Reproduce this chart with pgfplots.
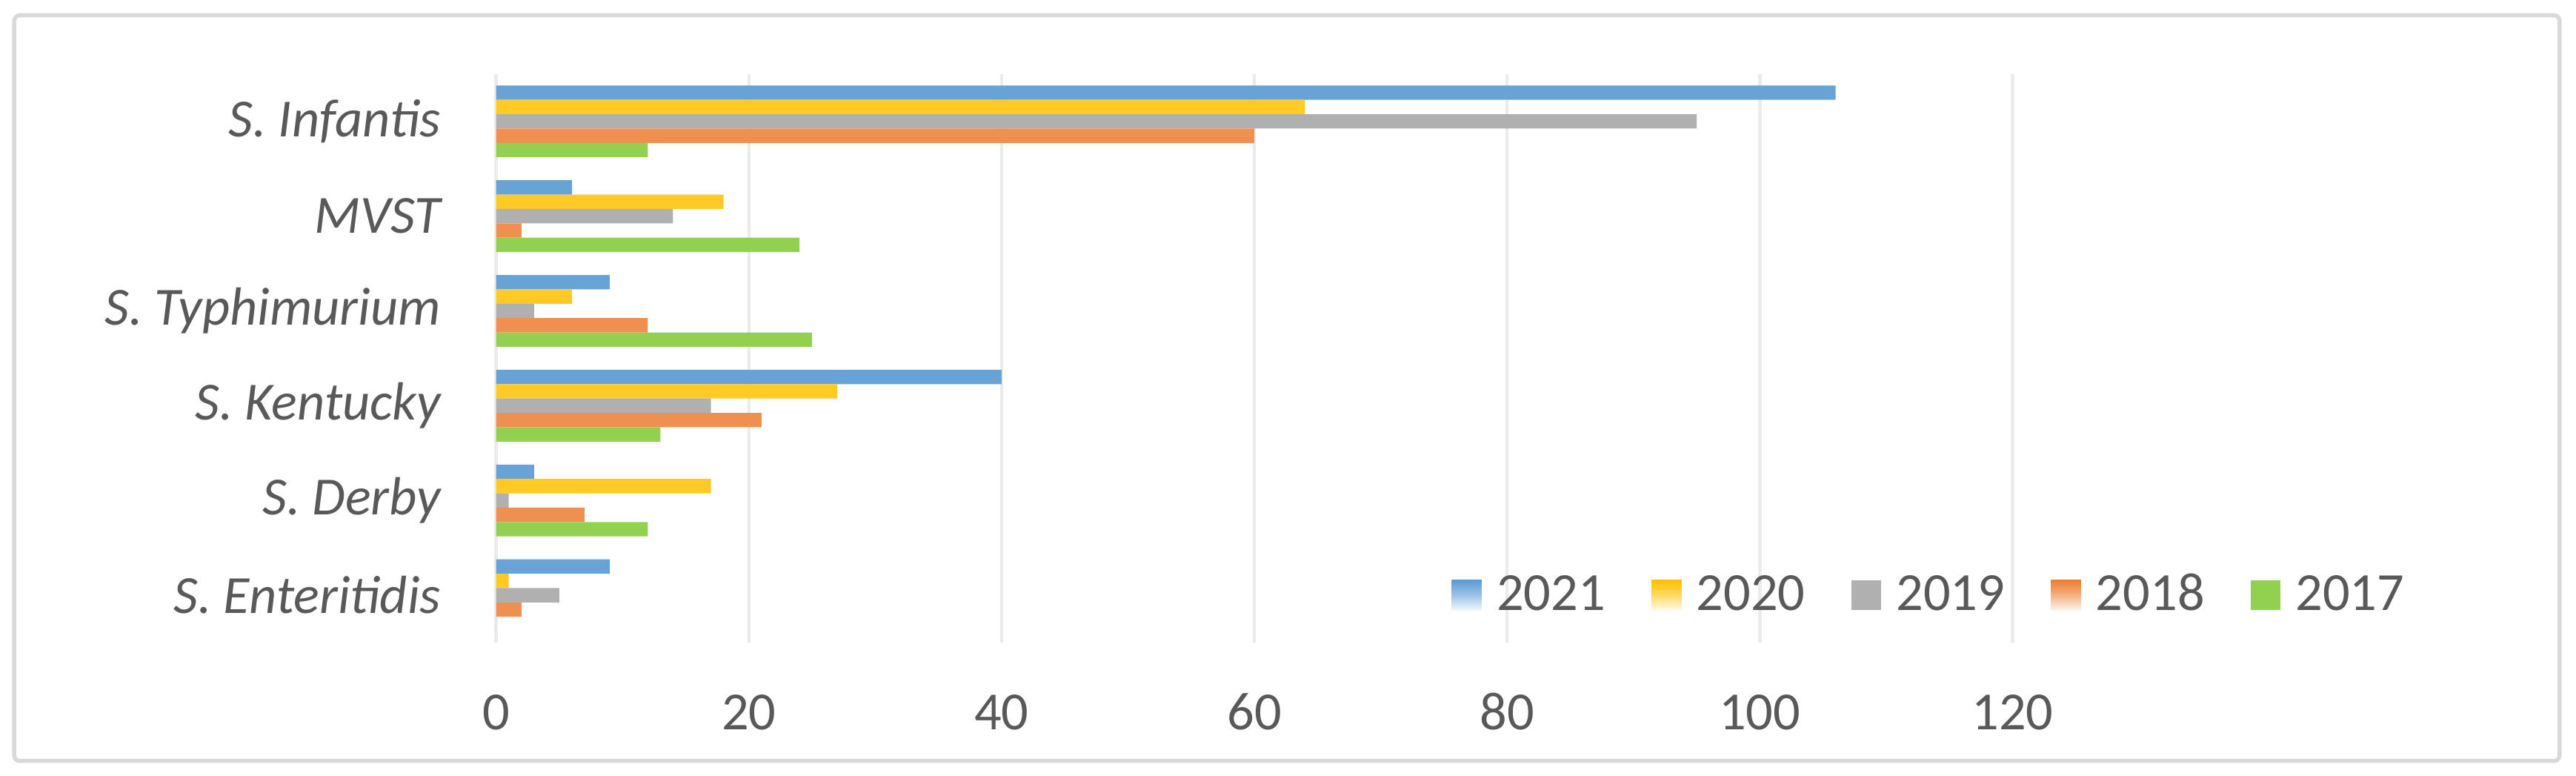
\documentclass[border=0pt]{standalone}
\usepackage{fontspec}
\setmainfont{Carlito}
\usepackage{pgfplots}
\usepackage{pgfplotstable}
\pgfplotsset{compat=1.18}

\definecolor{c21}{HTML}{5B9BD5}
\definecolor{c20}{HTML}{FFC000}
\definecolor{c19}{HTML}{B0B0B0}
\definecolor{c18}{HTML}{ED7D31}
\definecolor{c17}{HTML}{92D050}
\definecolor{txt}{HTML}{595959}
\definecolor{frame}{HTML}{D9D9D9}
\definecolor{gridc}{HTML}{EBEBEB}

\newcommand{\lbl}{\fontsize{9.8}{11.8}\selectfont}

% legend swatches: square, fading to white at the bottom
\pgfplotsset{
  fade swatch/.style={legend image code/.code={
    \path[draw=none, top color=#1, bottom color=#1!8!white, middle color=#1!60!white]
      (0pt,0pt) rectangle (5.5pt,5.5pt);}},
  flat swatch/.style={legend image code/.code={
    \path[draw=none, fill=#1] (0pt,0pt) rectangle (5.5pt,5.5pt);}},
}

% serotype counts per year, rows bottom to top
\pgfplotstableread{
cat a2021 a2020 a2019 a2018 a2017
0   9     1     5     2     0
1   3     17    1     7     12
2   40    27    17    21    13
3   9     6     3     12    25
4   6     18    14    2     24
5   106   64    95    60    12
}\counts

\begin{document}
\begin{tikzpicture}
\begin{axis}[
  at={(0,0)}, anchor=south west, scale only axis,
  width=276.9pt, height=103.8pt,
  xbar, bar width=0.1515,
  xmin=0, xmax=120, ymin=-0.5, ymax=5.5,
  xtick={0,20,...,120}, ytick={0,...,5},
  yticklabels={S. Enteritidis, S. Derby, S. Kentucky, S. Typhimurium, MVST, S. Infantis},
  xmajorgrids, grid style={gridc, line width=0.6pt},
  axis line style={draw=none}, major tick length=0pt,
  tick label style={font=\lbl, text=txt, inner sep=0pt},
  xticklabel style={anchor=base, yshift=-15.9pt},
  yticklabel style={anchor=east, xshift=-9.9pt, font=\lbl\itshape},
  /pgf/number format/assume math mode=true,
  legend columns=5,
  legend style={at={(0.6295,0.0405)}, anchor=south west, draw=none, fill=none,
    inner sep=0pt, font=\lbl, text=txt, nodes={inner sep=0pt, anchor=base},
    /tikz/every odd column/.append style={column sep=2.7pt},
    /tikz/every even column/.append style={column sep=8.4pt}},
]
\addplot[bar shift=0.303, draw=none, fill=c21!92!white, fade swatch=c21]
  table[x=a2021, y=cat] {\counts};
\addplot[bar shift=0.1515, draw=none, fill=c20!85!white, fade swatch=c20]
  table[x=a2020, y=cat] {\counts};
\addplot[bar shift=0, draw=none, fill=c19, flat swatch=c19]
  table[x=a2019, y=cat] {\counts};
\addplot[bar shift=-0.1515, draw=none, fill=c18!85!white, fade swatch=c18]
  table[x=a2018, y=cat] {\counts};
\addplot[bar shift=-0.303, draw=none, fill=c17, flat swatch=c17]
  table[x=a2017, y=cat] {\counts};
\legend{2021, 2020, 2019, 2018, 2017}
\end{axis}
\draw[frame, line width=0.75pt, rounded corners=1pt] (-88.0pt,-21.6pt) rectangle (376.8pt,114.5pt);
\pgfresetboundingbox
\useasboundingbox (-90.6pt,-24.3pt) rectangle (379.8pt,117.3pt);
\end{tikzpicture}
\end{document}
